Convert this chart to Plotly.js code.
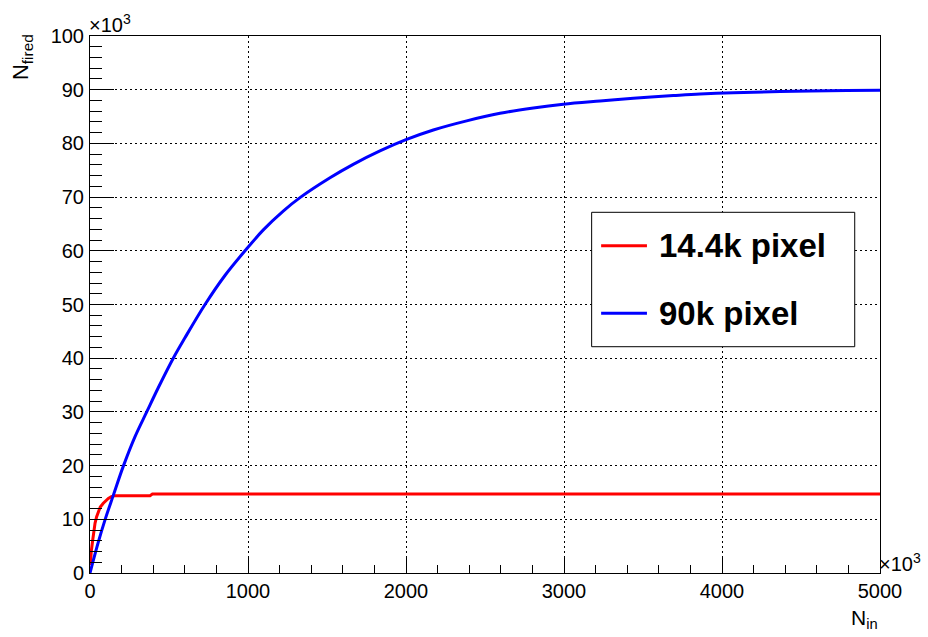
<!DOCTYPE html>
<html>
<head>
<meta charset="utf-8">
<script src="https://cdn.plot.ly/plotly-3.0.1.min.js"></script>
<style>html,body{margin:0;padding:0;background:#fff;}#chart{width:928px;height:637px;}</style>
</head>
<body>
<div id="chart"></div>
<script>
// N_in (x10^3) and N_fired (x10^3)
const redX = [3, 8, 17, 25, 32, 42, 53, 65, 84, 100, 116, 135, 158, 200, 380, 395, 1000, 2000, 3000, 4000, 5000];
const redY = [1.5, 4.0, 6.1, 8.0, 9.3, 10.5, 11.4, 12.3, 13.0, 13.5, 13.9, 14.2, 14.4, 14.4, 14.4, 14.7, 14.7, 14.7, 14.7, 14.7, 14.7];
const blueX = [0, 53, 95, 148, 211, 285, 359, 432, 527, 601, 728, 854, 981, 1097, 1223, 1329, 1519, 1666, 1835, 2000, 2173, 2384, 2595, 2806, 2996, 3228, 3439, 3692, 3861, 4072, 4367, 4789, 5000];
const blueY = [0, 5.8, 9.9, 14.5, 19.9, 25.4, 30, 34.5, 40, 43.8, 50, 55.4, 60, 63.9, 67.4, 69.9, 73.6, 76.1, 78.6, 80.7, 82.5, 84.2, 85.6, 86.6, 87.3, 87.9, 88.4, 88.9, 89.2, 89.45, 89.65, 89.85, 89.9];
const seriesNames = ["14.4k pixel", "90k pixel"];
const seriesColors = ["#ff0000", "#0000ff"];
const xTicks = [0, 1000, 2000, 3000, 4000, 5000];
const yTicks = [0, 10, 20, 30, 40, 50, 60, 70, 80, 90, 100];

const FONT = "Liberation Sans, Arial, Helvetica, sans-serif";

const traces = [
  {x: redX, y: redY, name: seriesNames[0], mode: "lines", line: {color: seriesColors[0], width: 3}, showlegend: false},
  {x: blueX, y: blueY, name: seriesNames[1], mode: "lines", line: {color: seriesColors[1], width: 3, shape: "spline", smoothing: 1}, showlegend: false}
];

// legend (drawn box) geometry in paper coords
const L = {x0: 0.635, x1: 0.968, y0: 0.4214, y1: 0.6717, lx0: 0.647, lx1: 0.705, tx: 0.7177, ys: [0.6095, 0.4836]};

const shapes = [
  {type: "rect", xref: "paper", yref: "paper", x0: L.x0, x1: L.x1, y0: L.y0, y1: L.y1, line: {color: "#000", width: 1}, fillcolor: "#fff", layer: "above"}
];
const annotations = [];
seriesNames.forEach((n, i) => {
  shapes.push({type: "line", xref: "paper", yref: "paper", x0: L.lx0, x1: L.lx1, y0: L.ys[i], y1: L.ys[i], line: {color: seriesColors[i], width: 3}, layer: "above"});
  annotations.push({xref: "paper", yref: "paper", x: L.tx, y: L.ys[i], xanchor: "left", yanchor: "middle", text: "<b>" + n + "</b>", showarrow: false, font: {family: FONT, size: 33, color: "#000"}});
});
annotations.push(
  {xref: "paper", yref: "paper", x: 0, y: 1, xanchor: "left", yanchor: "bottom", text: "×10<sup>3</sup>", showarrow: false, font: {family: FONT, size: 20, color: "#000"}, xshift: -3, yshift: -2},
  {xref: "paper", yref: "paper", x: 1, y: 0, xanchor: "left", yanchor: "bottom", text: "×10<sup>3</sup>", showarrow: false, font: {family: FONT, size: 20, color: "#000"}, xshift: -3, yshift: -4},
  {xref: "paper", yref: "paper", x: 1, y: 0, xanchor: "right", yanchor: "top", text: "N<sub>in</sub>", showarrow: false, font: {family: FONT, size: 21, color: "#000"}, xshift: 0, yshift: -31},
  {xref: "paper", yref: "paper", x: -0.086, y: 1, xanchor: "center", yanchor: "top", textangle: -90, text: "N<sub>fired</sub>", showarrow: false, font: {family: FONT, size: 22, color: "#000"}, yshift: 4}
);

const layout = {
  width: 928, height: 637,
  margin: {l: 90, r: 48, t: 36, b: 64},
  paper_bgcolor: "#fff", plot_bgcolor: "#fff",
  font: {family: FONT, size: 20, color: "#000"},
  showlegend: false,
  xaxis: {
    range: [0, 5000], tickvals: xTicks, ticktext: xTicks.map(String),
    ticks: "inside", ticklen: 16, tickwidth: 1, tickcolor: "#000",
    minor: {dtick: 200, ticks: "inside", ticklen: 8, tickwidth: 1, tickcolor: "#000", showgrid: false},
    showline: true, linecolor: "#000", linewidth: 1, mirror: true,
    showgrid: true, gridcolor: "#000", gridwidth: 1, griddash: "2px,3px",
    zeroline: false, tickfont: {family: FONT, size: 20, color: "#000"}, ticklabelstandoff: 0
  },
  yaxis: {
    range: [0, 100], tickvals: yTicks, ticktext: yTicks.map(String),
    ticks: "inside", ticklen: 24, tickwidth: 1, tickcolor: "#000",
    minor: {dtick: 2, ticks: "inside", ticklen: 12, tickwidth: 1, tickcolor: "#000", showgrid: false},
    showline: true, linecolor: "#000", linewidth: 1, mirror: true,
    showgrid: true, gridcolor: "#000", gridwidth: 1, griddash: "2px,3px",
    zeroline: false, tickfont: {family: FONT, size: 20, color: "#000"}, ticklabelstandoff: 1
  },
  shapes: shapes,
  annotations: annotations
};

Plotly.newPlot("chart", traces, layout, {staticPlot: true, displayModeBar: false});
</script>
</body>
</html>
